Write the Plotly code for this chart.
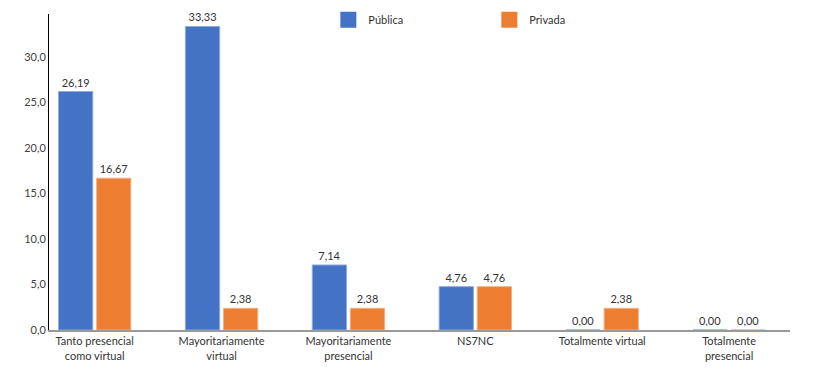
import plotly.graph_objects as go

categories = ["Tanto presencial<br>como virtual", "Mayoritariamente<br>virtual",
              "Mayoritariamente<br>presencial", "NS7NC", "Totalmente virtual",
              "Totalmente<br>presencial"]
publica = [26.19, 33.33, 7.14, 4.76, 0.00, 0.00]
privada = [16.67, 2.38, 2.38, 4.76, 2.38, 0.00]
tick_vals = [0, 5, 10, 15, 20, 25, 30]

BLUE = "#4472C4"
ORANGE = "#ED7D31"
FONT = "Lato, 'Open Sans', sans-serif"

fig = go.Figure()
fig.add_trace(go.Bar(x=categories, y=publica, name="Pública", marker=dict(color=BLUE, line=dict(color="#8FAADC", width=1)),
                     texttemplate="%{y:.2f}", textposition="outside", showlegend=False,
                     textfont=dict(size=11, color="#333333", family=FONT), cliponaxis=False))
fig.add_trace(go.Bar(x=categories, y=privada, name="Privada", marker=dict(color=ORANGE, line=dict(color="#F4B183", width=1)),
                     texttemplate="%{y:.2f}", textposition="outside", showlegend=False,
                     textfont=dict(size=11, color="#333333", family=FONT), cliponaxis=False))
# legend entries
for nm, col in [("Pública", BLUE), ("Privada", ORANGE)]:
    fig.add_trace(go.Scatter(x=[None], y=[None], mode="markers", name=nm,
                             marker=dict(symbol="square", size=20, color=col)))

fig.update_layout(
    width=831, height=377,
    margin=dict(l=41, r=49, t=6, b=55, autoexpand=False),
    plot_bgcolor="white", paper_bgcolor="white",
    separators=",.",
    barmode="group", bargap=0.4, bargroupgap=0.1,
    font=dict(family=FONT, size=11, color="#333333"),
    legend=dict(orientation="h", x=0.377, xanchor="left", y=1.028, yanchor="top",
                entrywidth=116, entrywidthmode="pixels", font=dict(size=11, color="#333333"),
                bgcolor="rgba(0,0,0,0)"),
    xaxis=dict(range=[-0.36, 5.48], showline=True, linecolor="#999999", linewidth=2,
               ticks="", tickfont=dict(size=11, color="#333333"), showgrid=False, automargin=False),
    yaxis=dict(range=[0, 34.7], tickvals=tick_vals, tickformat=".1f", showline=True,
               linecolor="#000000", linewidth=1, showgrid=False, zeroline=False, automargin=False,
               tickfont=dict(size=11, color="#404040"), ticks=""),
)
fig.write_html("out.html")
